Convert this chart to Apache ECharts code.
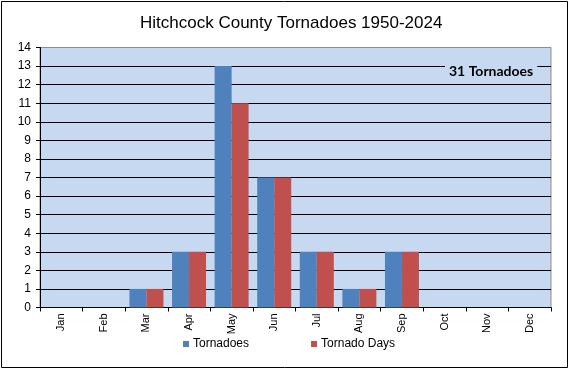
<!DOCTYPE html>
<html>
<head>
<meta charset="utf-8">
<script src="https://cdn.jsdelivr.net/npm/echarts@6/dist/echarts.min.js"></script>
<style>
html,body{margin:0;padding:0;background:#fff;}
#chart{width:572px;height:370px;}
</style>
</head>
<body>
<div id="chart"></div>
<script>
const months = ['Jan','Feb','Mar','Apr','May','Jun','Jul','Aug','Sep','Oct','Nov','Dec'];
const tornadoes = [0,0,1,3,13,7,3,1,3,0,0,0];
const tornadoDays = [0,0,1,3,11,7,3,1,3,0,0,0];
const yTicks = [0,1,2,3,4,5,6,7,8,9,10,11,12,13,14];
const titleText = 'Hitchcock County Tornadoes 1950-2024';
const totalTornadoes = tornadoes.reduce((a,b)=>a+b,0);

const chart = echarts.init(document.getElementById('chart'), null, {renderer:'canvas'});
const font = 'Liberation Sans, Arial, sans-serif';
const splitColors = yTicks.map((v,i)=> i===yTicks.length-1 ? '#8c8c8c' : '#000');

chart.setOption({
  animation:false,
  backgroundColor:'#fff',
  title:{
    text:titleText, left:140, top:15, padding:0,
    textStyle:{fontFamily:font, fontSize:17, fontWeight:'normal', color:'#000'}
  },
  grid:{
    left:40, right:21, top:47.5, bottom:62.5,
    show:true, backgroundColor:'#C6D9F1', borderColor:'#8c8c8c', borderWidth:1
  },
  legend:{
    data:['Tornadoes','Tornado Days'],
    left:183, top:338, padding:0, itemWidth:6, itemHeight:6, itemGap:62,
    icon:'rect',
    textStyle:{fontFamily:font, fontSize:12, color:'#000', padding:[0,0,0,-1]}
  },
  xAxis:{
    type:'category', data:months,
    axisLine:{lineStyle:{color:'#000', width:1}},
    axisTick:{show:true, length:4, lineStyle:{color:'#000'}},
    axisLabel:{rotate:90, margin:6, fontFamily:font, fontSize:11, color:'#000'},
    splitLine:{show:false}
  },
  yAxis:{
    type:'value', min:0, max:14, interval:1,
    axisLine:{show:true, lineStyle:{color:'#000', width:1}},
    axisTick:{show:true, length:4, lineStyle:{color:'#000'}},
    axisLabel:{margin:9, fontFamily:font, fontSize:12, color:'#000'},
    splitLine:{show:true, lineStyle:{color:splitColors, width:1}}
  },
  series:[
    {name:'Tornadoes', type:'bar', data:tornadoes, barWidth:17, barGap:'0%',
     itemStyle:{color:'#4F81BD'}},
    {name:'Tornado Days', type:'bar', data:tornadoDays, barWidth:17, barGap:'0%',
     itemStyle:{color:'#C0504D'}}
  ],
  graphic:[
    {type:'text', left:445, top:61, z:100,
     style:{text: totalTornadoes + ' Tornadoes', fontFamily:'Lato, Open Sans, sans-serif', fontWeight:'bold', fontSize:14,
       fill:'#000', backgroundColor:'#C6D9F1', padding:[3,4,3,4]}},
    {type:'rect', z:100, shape:{x:1.5, y:1.5, width:566, height:366},
     style:{fill:null, stroke:'#000', lineWidth:1}}
  ]
});
</script>
</body>
</html>
